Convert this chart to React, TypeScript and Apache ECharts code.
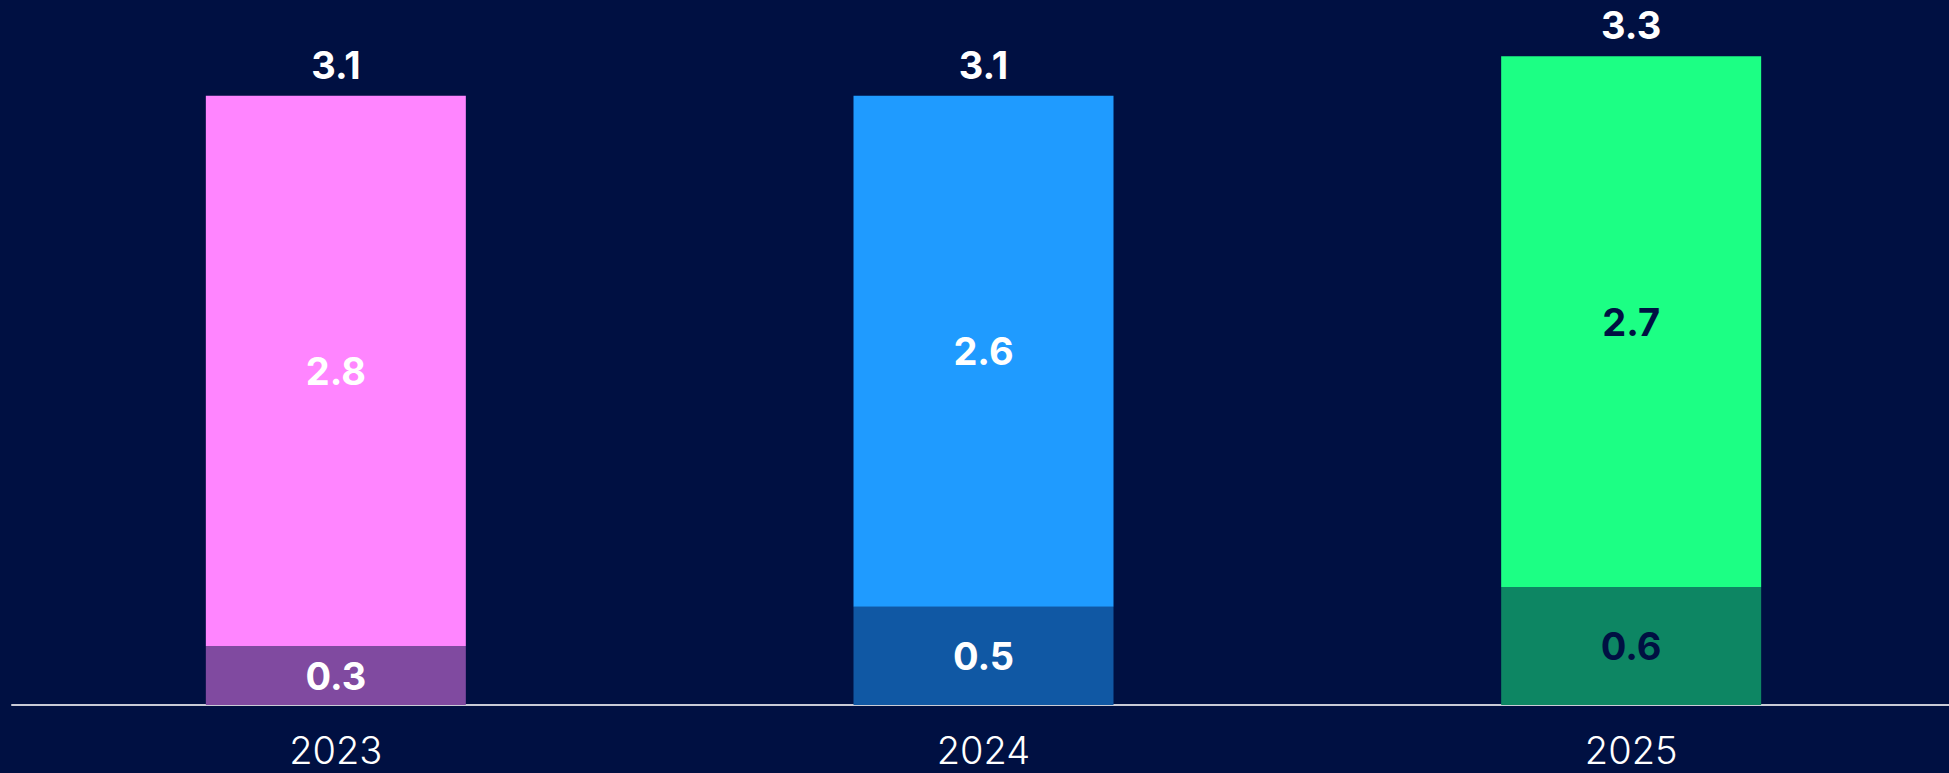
import React, { useEffect, useRef } from "react";
import * as echarts from "echarts";

const categories = ["2023", "2024", "2025"];
const baseValues = [0.3, 0.5, 0.6];
const upperValues = [2.8, 2.6, 2.7];
const upperColors = ["#FF85FF", "#1F9BFF", "#1CFF84"];
const baseColors = ["#804AA0", "#1058A4", "#0D8663"];
const insideLabelColors = ["#FFFFFF", "#FFFFFF", "#001042"];

const BG = "#001042";
const FONT = "Inter, 'Noto Sans', sans-serif";

export default function App() {
  const ref = useRef<HTMLDivElement>(null);

  useEffect(() => {
    if (!ref.current) return;
    const chart = echarts.init(ref.current, undefined, { renderer: "svg" });
    const totals = baseValues.map((v, i) => Math.round((v + upperValues[i]) * 10) / 10);

    const labelBase = {
      show: true,
      fontFamily: FONT,
      fontSize: 38,
      fontWeight: "bold" as const,
    };

    chart.setOption({
      animation: false,
      backgroundColor: BG,
      grid: { left: 12, right: 0, top: 17, bottom: 68, containLabel: false },
      xAxis: {
        type: "category",
        data: categories,
        axisLine: { show: true, lineStyle: { color: "#C9CBD6", width: 2 } },
        axisTick: { show: false },
        axisLabel: {
          color: "#FFFFFF",
          fontFamily: FONT,
          fontSize: 38,
          fontWeight: 300,
          margin: 26,
        },
      },
      yAxis: {
        type: "value",
        min: 0,
        max: 3.5,
        show: false,
        splitLine: { show: false },
      },
      series: [
        {
          type: "bar",
          stack: "total",
          barWidth: 260,
          data: baseValues.map((v, i) => ({
            value: v,
            itemStyle: { color: baseColors[i] },
            label: { color: insideLabelColors[i] },
          })),
          label: { ...labelBase, position: "inside" },
        },
        {
          type: "bar",
          stack: "total",
          barWidth: 260,
          data: upperValues.map((v, i) => ({
            value: v,
            itemStyle: { color: upperColors[i] },
            label: { color: insideLabelColors[i] },
          })),
          label: { ...labelBase, position: "inside" },
        },
        {
          type: "bar",
          stack: "total",
          barWidth: 260,
          data: totals.map(() => 0),
          itemStyle: { color: "transparent" },
          label: {
            ...labelBase,
            position: "top",
            distance: 16,
            lineHeight: 30,
            color: "#FFFFFF",
            formatter: (p: any) => totals[p.dataIndex].toFixed(1),
          },
        },
      ],
    });

    return () => chart.dispose();
  }, []);

  return (
    <div
      ref={ref}
      style={{ position: "fixed", left: 0, top: 0, width: 1955, height: 773 }}
    />
  );
}
